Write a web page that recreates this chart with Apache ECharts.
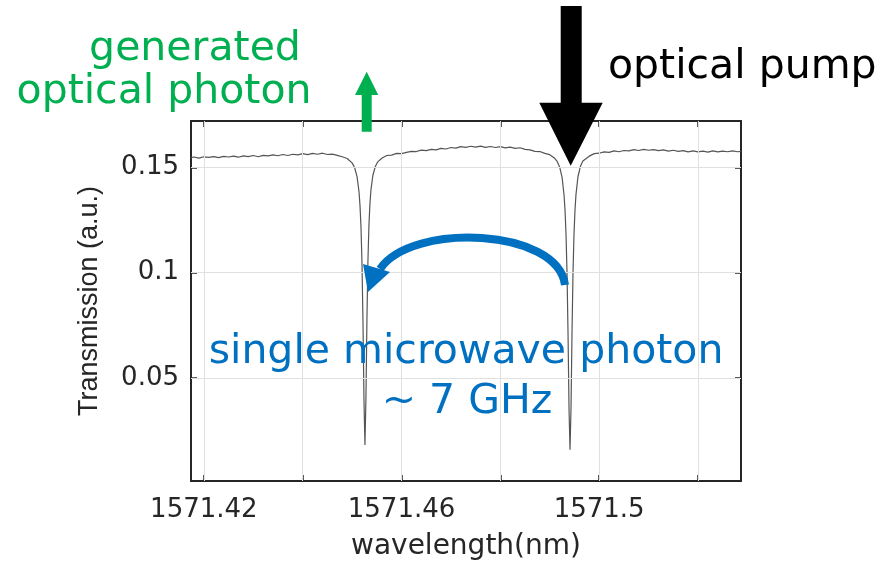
<!DOCTYPE html>
<html><head><meta charset="utf-8">
<script src="https://cdn.jsdelivr.net/npm/echarts@6/dist/echarts.min.js"></script>
<style>html,body{margin:0;padding:0;background:#fff}#c{width:888px;height:566px}</style>
</head><body><div id="c"></div>
<script>
// ---- data ----
const wavelength = [
1571.4174,1571.418,1571.419,1571.420,1571.421,1571.422,1571.423,1571.424,1571.425,1571.426,
1571.427,1571.428,1571.429,1571.430,1571.431,1571.432,1571.433,1571.434,1571.435,1571.436,
1571.437,1571.438,1571.439,1571.440,1571.441,1571.442,1571.443,1571.444,1571.445,1571.446,
1571.447,1571.448,1571.449,
1571.4500,1571.4505,1571.4510,1571.4514,1571.4516,1571.4518,1571.4520,1571.4522,1571.4524,1571.4526,
1571.4528,1571.4530,1571.4532,1571.4534,1571.4536,1571.4538,1571.4542,1571.4547,1571.4552,
1571.456,1571.457,1571.458,1571.459,1571.460,1571.461,1571.462,1571.463,1571.464,1571.465,
1571.466,1571.467,1571.468,1571.469,1571.470,1571.471,1571.472,1571.473,1571.474,1571.475,
1571.476,1571.477,1571.478,1571.479,1571.480,1571.481,1571.482,1571.483,1571.484,1571.485,
1571.486,1571.487,1571.488,1571.489,1571.490,1571.491,
1571.4915,1571.4920,1571.4925,1571.4929,1571.4931,1571.4933,1571.4935,1571.4937,1571.4939,1571.4941,
1571.4943,1571.4945,1571.4947,1571.4949,1571.4951,1571.4953,1571.4957,1571.4962,1571.4967,
1571.497,1571.498,1571.499,1571.500,1571.501,1571.502,1571.503,1571.504,1571.505,1571.506,
1571.507,1571.508,1571.509,1571.510,1571.511,1571.512,1571.513,1571.514,1571.515,1571.516,
1571.517,1571.518,1571.519,1571.520,1571.521,1571.522,1571.523,1571.524,1571.525,1571.526,
1571.527,1571.528,1571.5287
];
const transmission = [
0.1546,0.1549,0.1544,0.1550,0.1547,0.1551,0.1546,0.1552,0.1549,0.1553,
0.1548,0.1554,0.1551,0.1556,0.1550,0.1557,0.1554,0.1559,0.1555,0.1561,
0.1556,0.1562,0.1559,0.1565,0.1560,0.1566,0.1562,0.1567,0.1561,0.1563,
0.1557,0.1550,0.1542,
0.1521,0.1499,0.1456,0.1384,0.1318,0.1215,0.1046,0.0770,0.0397,0.0181,
0.0399,0.0773,0.1049,0.1219,0.1322,0.1389,0.1461,0.1504,0.1526,
0.1543,0.1556,0.1558,0.1566,0.1565,0.1571,0.1576,0.1575,0.1582,0.1579,
0.1585,0.1583,0.1590,0.1587,0.1594,0.1591,0.1598,0.1595,0.1600,0.1596,
0.1601,0.1595,0.1599,0.1594,0.1598,0.1592,0.1596,0.1590,0.1593,0.1585,
0.1583,0.1576,0.1575,0.1566,0.1560,0.1543,
0.1528,0.1502,0.1451,0.1366,0.1291,0.1175,0.0990,0.0706,0.0351,0.0158,
0.0353,0.0709,0.0993,0.1178,0.1294,0.1369,0.1454,0.1505,0.1530,
0.1537,0.1553,0.1565,0.1567,0.1573,0.1571,0.1578,0.1574,0.1580,0.1578,
0.1584,0.1580,0.1585,0.1581,0.1584,0.1579,0.1583,0.1577,0.1581,0.1576,
0.1579,0.1573,0.1578,0.1573,0.1577,0.1572,0.1578,0.1573,0.1577,0.1574,
0.1578,0.1574,0.1576
];
const xTicks = [1571.42,1571.44,1571.46,1571.48,1571.50,1571.52];
const xTickLabels = [1571.42,1571.46,1571.50];
const yTicks = [0.05,0.10,0.15];
const xRange = [1571.4174, 1571.5287];
const yRange = [0.001, 0.172];
const xTitle = 'wavelength(nm)';
const yTitle = 'Transmission (a.u.)';

// ---- chart ----
const chart = echarts.init(document.getElementById('c'), null, {renderer:'canvas'});
const AX = '#262626';
const fmt = v => String(parseFloat(Number(v).toFixed(2)));
const axisBase = {
  axisLine:{show:true,onZero:false,lineStyle:{color:AX,width:2}},
  splitLine:{show:false}
};
const pts = wavelength.map((w,i)=>[w,transmission[i]]);
const gridLines = xTicks.map(v=>({xAxis:v})).concat(yTicks.map(v=>({yAxis:v})));

chart.setOption({
  animation:false,
  backgroundColor:'#fff',
  grid:{left:191,right:147,top:121,bottom:83,containLabel:false},
  xAxis:[
    Object.assign({type:'value',position:'bottom',min:xRange[0],max:xRange[1],
      name:xTitle,nameLocation:'middle',nameGap:52,
      nameTextStyle:{fontFamily:'DejaVu Sans',fontSize:28,color:AX},
      axisTick:{show:true,inside:true,length:6,lineStyle:{color:AX,width:1.5},customValues:xTicks},
      axisLabel:{show:true,customValues:xTickLabels,formatter:fmt,margin:16,
        fontFamily:'DejaVu Sans',fontSize:26,color:AX,showMinLabel:true,showMaxLabel:true}
    },axisBase),
    Object.assign({type:'value',position:'top',min:xRange[0],max:xRange[1],
      axisTick:{show:true,inside:true,length:6,lineStyle:{color:AX,width:1.5},customValues:xTicks},
      axisLabel:{show:false}
    },axisBase)
  ],
  yAxis:[
    Object.assign({type:'value',position:'left',min:yRange[0],max:yRange[1],
      name:yTitle,nameLocation:'middle',nameGap:88,nameRotate:90,
      nameTextStyle:{fontFamily:'Liberation Sans',fontSize:27,color:AX},
      axisTick:{show:true,inside:true,length:6,lineStyle:{color:AX,width:1.5},customValues:yTicks},
      axisLabel:{show:true,customValues:yTicks,formatter:fmt,margin:12,
        fontFamily:'DejaVu Sans',fontSize:26,color:AX}
    },axisBase),
    Object.assign({type:'value',position:'right',min:yRange[0],max:yRange[1],
      axisTick:{show:true,inside:true,length:6,lineStyle:{color:AX,width:1.5},customValues:yTicks},
      axisLabel:{show:false}
    },axisBase)
  ],
  series:[
    {type:'line',name:'grid',data:[],silent:true,z:1,
      markLine:{silent:true,symbol:['none','none'],label:{show:false},animation:false,
        lineStyle:{color:'#e0e0e0',width:1,type:'solid'},emphasis:{disabled:true},
        data:gridLines}},
    {type:'line',name:'transmission',data:pts,showSymbol:false,symbol:'none',z:3,
      lineStyle:{color:'#555555',width:1.2},clip:true}
  ],
  graphic:[
    {type:'polygon',z:100,shape:{points:[[560.7,6],[581.7,6],[581.7,102.7],[602.7,102.7],[570.7,165.7],[539.3,102.7],[560.7,102.7]]},style:{fill:'#000'}},
    {type:'polygon',z:100,shape:{points:[[361.7,131.7],[371.7,131.7],[371.7,95],[378.3,95],[366.7,71.7],[355,95],[361.7,95]]},style:{fill:'#00b050'}},
    {type:'bezierCurve',z:100,shape:{x1:565,y1:285,cpx1:558,cpy1:228,cpx2:412,cpy2:222,x2:380,y2:269},style:{stroke:'#0070c0',lineWidth:8,fill:null,lineCap:'butt'}},
    {type:'polygon',z:100,shape:{points:[[363,264],[390,272],[368,292]]},style:{fill:'#0070c0'}},
    {type:'text',z:100,style:{text:'generated',x:195,y:49,align:'center',verticalAlign:'middle',font:'41px "DejaVu Sans"',fill:'#00b050'}},
    {type:'text',z:100,style:{text:'optical photon',x:164,y:92,align:'center',verticalAlign:'middle',font:'41px "DejaVu Sans"',fill:'#00b050'}},
    {type:'text',z:100,style:{text:'optical pump',x:608,y:67,align:'left',verticalAlign:'middle',font:'41px "DejaVu Sans"',fill:'#000'}},
    {type:'text',z:100,style:{text:'single microwave photon',x:466,y:352,align:'center',verticalAlign:'middle',font:'41px "DejaVu Sans"',fill:'#0070c0'}},
    {type:'text',z:100,style:{text:'~ 7 GHz',x:467,y:402,align:'center',verticalAlign:'middle',font:'41px "DejaVu Sans"',fill:'#0070c0'}}
  ]
});
</script></body></html>
